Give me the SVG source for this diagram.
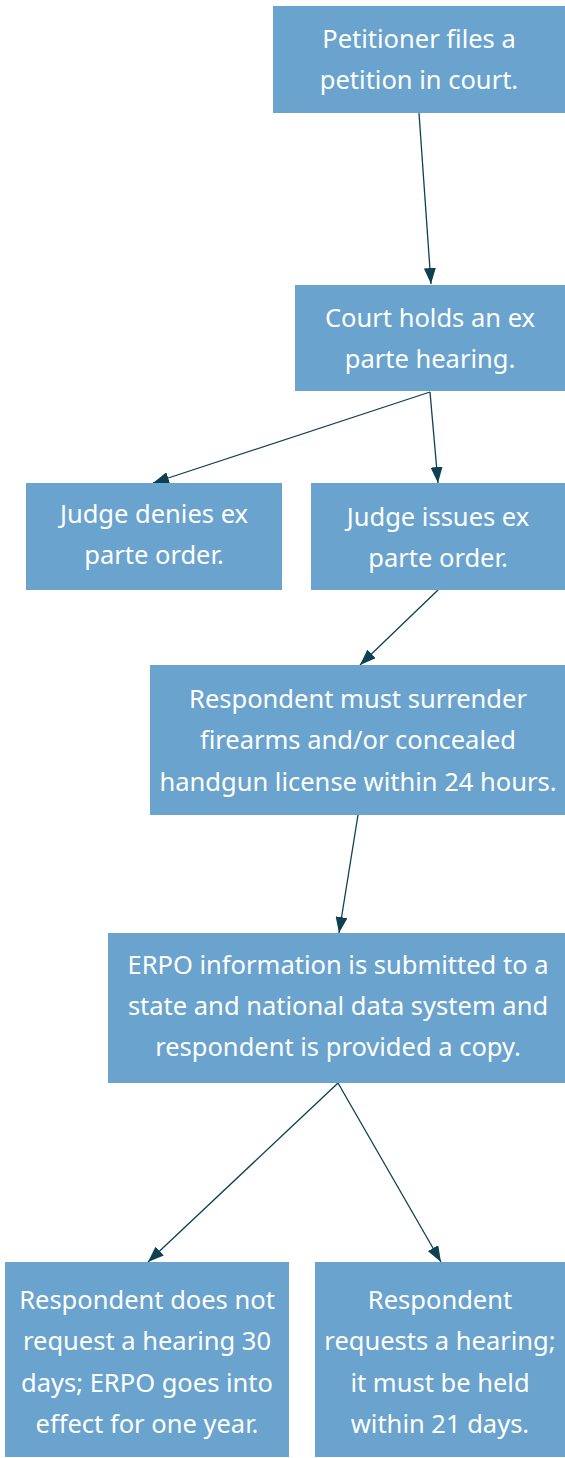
<svg xmlns="http://www.w3.org/2000/svg" width="565" height="1458" viewBox="0 0 565 1458">
<style>
.box{fill:#6aa3cd}
.t{font-family:"Noto Sans","Open Sans",sans-serif;font-size:25.5px;fill:#ffffff;text-anchor:middle}
.c{stroke:#0d4050;stroke-width:1.3;fill:none;marker-end:url(#ah)}
</style>
<defs>
<marker id="ah" viewBox="0 0 16 12" refX="16" refY="6" markerWidth="16" markerHeight="12" markerUnits="userSpaceOnUse" orient="auto">
<path d="M0,0 L16,6 L0,12 z" fill="#0d4050"/>
</marker>
</defs>
<g id="connectors">
<line class="c" x1="419" y1="113" x2="431" y2="284"/>
<line class="c" x1="430" y1="392" x2="153" y2="483"/>
<line class="c" x1="430" y1="392" x2="438" y2="483"/>
<line class="c" x1="438" y1="590" x2="360" y2="665"/>
<line class="c" x1="358" y1="815" x2="339" y2="933"/>
<line class="c" x1="338" y1="1083" x2="148" y2="1262"/>
<line class="c" x1="338" y1="1083" x2="441" y2="1262"/>
</g>
<g id="n1"><rect class="box" x="273" y="6" width="292" height="107"/>
<text class="t" x="419" y="48">Petitioner files a</text><text class="t" x="419" y="89">petition in court.</text></g>
<g id="n2"><rect class="box" x="295" y="285" width="270" height="106"/>
<text class="t" x="430" y="327">Court holds an ex</text><text class="t" x="430" y="368">parte hearing.</text></g>
<g id="n3"><rect class="box" x="26" y="483" width="256" height="107"/>
<text class="t" x="154" y="523">Judge denies ex</text><text class="t" x="154" y="564">parte order.</text></g>
<g id="n4"><rect class="box" x="311" y="483" width="254" height="107"/>
<text class="t" x="438" y="526">Judge issues ex</text><text class="t" x="438" y="567">parte order.</text></g>
<g id="n5"><rect class="box" x="150" y="665" width="415" height="150"/>
<text class="t" x="358" y="708">Respondent must surrender</text><text class="t" x="358" y="749">firearms and/or concealed</text><text class="t" x="358" y="791">handgun license within 24 hours.</text></g>
<g id="n6"><rect class="box" x="108" y="933" width="457" height="150"/>
<text class="t" x="338" y="974">ERPO information is submitted to a</text><text class="t" x="338" y="1015">state and national data system and</text><text class="t" x="338" y="1056">respondent is provided a copy.</text></g>
<g id="n7"><rect class="box" x="5" y="1262" width="284" height="195"/>
<text class="t" x="147" y="1309">Respondent does not</text><text class="t" x="147" y="1350">request a hearing 30</text><text class="t" x="147" y="1392">days; ERPO goes into</text><text class="t" x="147" y="1433">effect for one year.</text></g>
<g id="n8"><rect class="box" x="315" y="1262" width="250" height="195"/>
<text class="t" x="440" y="1309">Respondent</text><text class="t" x="440" y="1350">requests a hearing;</text><text class="t" x="440" y="1392">it must be held</text><text class="t" x="440" y="1433">within 21 days.</text></g>
</svg>
